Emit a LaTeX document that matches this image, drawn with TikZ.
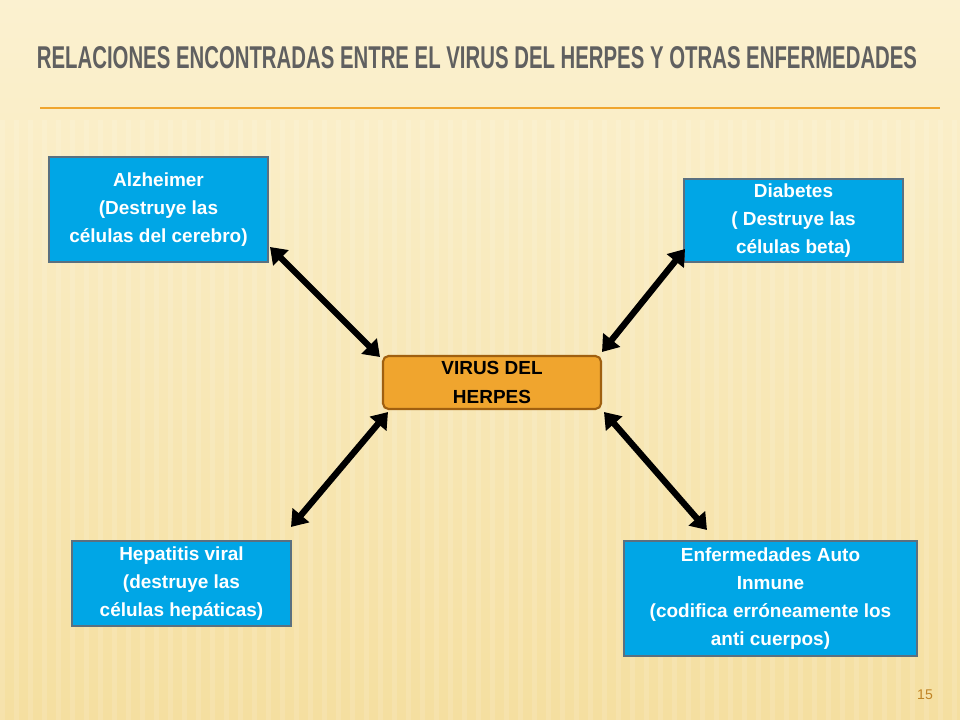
\documentclass[tikz,border=0pt]{standalone}
\usepackage{fontspec}
\setmainfont{Liberation Sans}
\usetikzlibrary{arrows.meta}
\definecolor{boxc}{HTML}{00A6E6}
\definecolor{boxb}{HTML}{5A7080}
\definecolor{orc}{HTML}{F0A52E}
\definecolor{orb}{HTML}{A06010}
\definecolor{bgtop}{HTML}{FBF1D0}
\definecolor{bgbot}{HTML}{F5DFA0}
\tikzset{
 dbox/.style={draw=boxb,line width=1.2pt,fill=boxc,text=white,font=\bfseries\fontsize{13.5}{20}\selectfont,align=center,inner sep=0pt},
 vbox/.style={draw=orb,line width=1.5pt,fill=orc,rounded corners=4pt,text=black,font=\bfseries\fontsize{13.5}{20}\selectfont,align=center,inner sep=0pt},
 dbl/.style={line width=4.5pt,{Triangle[length=11pt,width=15pt]}-{Triangle[length=11pt,width=15pt]}}
}
\begin{document}
\begin{tikzpicture}[x=0.025cm,y=-0.025cm]
\useasboundingbox (0,0) rectangle (960,720);
\shade[top color=bgtop,bottom color=bgbot] (0,0) rectangle (960,720);
\foreach \i in {0,14,...,960} \fill[white,opacity=0.12] (\i,120) rectangle (\i+5,720);
\node[text=gray!75!black,font=\bfseries\fontsize{17}{20}\selectfont] (title) at (477,58) {\resizebox{22cm}{0.55cm}{RELACIONES ENCONTRADAS ENTRE EL VIRUS DEL HERPES Y OTRAS ENFERMEDADES}};
\draw[orc,line width=0.8pt] (40,108) -- (940,108);
\node[dbox,minimum width=5.475cm,minimum height=2.625cm] (alz) at (158.5,209.5) {Alzheimer\\(Destruye las\\células del cerebro)};
\node[dbox,minimum width=5.475cm,minimum height=2.075cm] (dia) at (793.5,220.5) {Diabetes\\( Destruye las\\células beta)};
\node[vbox,minimum width=5.45cm,minimum height=1.325cm] (vir) at (492,382.5) {VIRUS DEL\\HERPES};
\node[dbox,minimum width=5.475cm,minimum height=2.125cm] (hep) at (181.5,583.5) {Hepatitis viral\\(destruye las\\células hepáticas)};
\node[dbox,minimum width=7.325cm,minimum height=2.875cm] (enf) at (770.5,598.5) {Enfermedades Auto\\Inmune\\(codifica erróneamente los\\anti cuerpos)};
\coordinate (a1) at (270,247); \coordinate (a2) at (380,357);
\coordinate (b1) at (685,249); \coordinate (b2) at (602,352);
\coordinate (c1) at (388,412); \coordinate (c2) at (291,527);
\coordinate (d1) at (604,412); \coordinate (d2) at (707,530);
\draw[dbl] (a1) -- (a2);
\draw[dbl] (b1) -- (b2);
\draw[dbl] (c1) -- (c2);
\draw[dbl] (d1) -- (d2);
\node[text=orc!80!black,font=\fontsize{10}{12}\selectfont] (pg) at (925,695) {15};
\end{tikzpicture}
\end{document}
